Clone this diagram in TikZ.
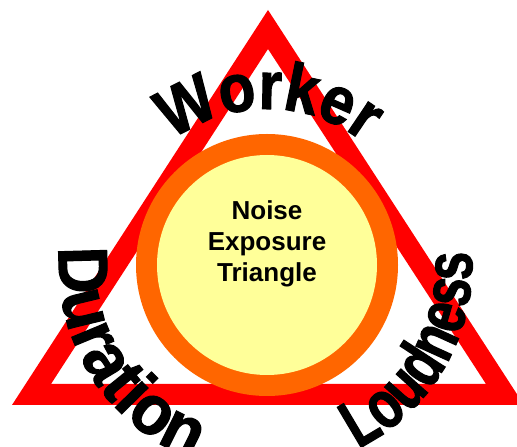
\documentclass[tikz,border=0pt]{standalone}
\usepackage{fontspec}
\setmainfont{Liberation Sans}
\newfontfamily\archfont[FakeStretch=0.88,BoldFeatures={FakeBold=1.6}]{Liberation Sans}
\newfontfamily\widearch[FakeStretch=0.93,BoldFeatures={FakeBold=1.6}]{Liberation Sans}
\newfontfamily\narrowarch[FakeStretch=0.75,BoldFeatures={FakeBold=1.6}]{Liberation Sans}
\usetikzlibrary{decorations.text}

\definecolor{signred}{RGB}{255,0,0}
\definecolor{ringorange}{RGB}{255,102,0}
\definecolor{coreyellow}{RGB}{255,255,153}

\begin{document}
\begin{tikzpicture}[
  x=1pt,y=1pt,
  every node/.style={font=\bfseries},
  core/.style={align=center,font=\bfseries\fontsize{26}{31}\selectfont},
  arch/.style n args={3}{decorate,decoration={text along path,text align=center,
      text={|#1\bfseries\fontsize{#2}{#2}\selectfont|#3}}}
]
\useasboundingbox (0,0) rectangle (517,447);
\clip (0,0) rectangle (517,447);

\coordinate (c) at (267,182);

% warning triangle, outer minus inner outline
\fill[signred,even odd rule]
  (12,42) -- (268,437) -- (524,42) -- cycle
  (51,63) -- (268,398) -- (486,63) -- cycle;

% orange ring with yellow core
\fill[ringorange] (c) circle[radius=131];
\fill[coreyellow] (c) circle[radius=110];

\node[core] (title) at (267,203) {Noise\\Exposure\\Triangle};

% the three factors, bent round the circle
\path[arch={\archfont}{68}{Worker}]
  (c) ++(140:156) arc[start angle=140,end angle=39,radius=156];
\path[arch={\widearch}{70}{Duration}]
  (c) ++(158:208) arc[start angle=158,end angle=266,radius=208];
\path[arch={\narrowarch}{68}{Loudness}]
  (c) ++(278:205) arc[start angle=278,end angle=382,radius=205];
\end{tikzpicture}
\end{document}
